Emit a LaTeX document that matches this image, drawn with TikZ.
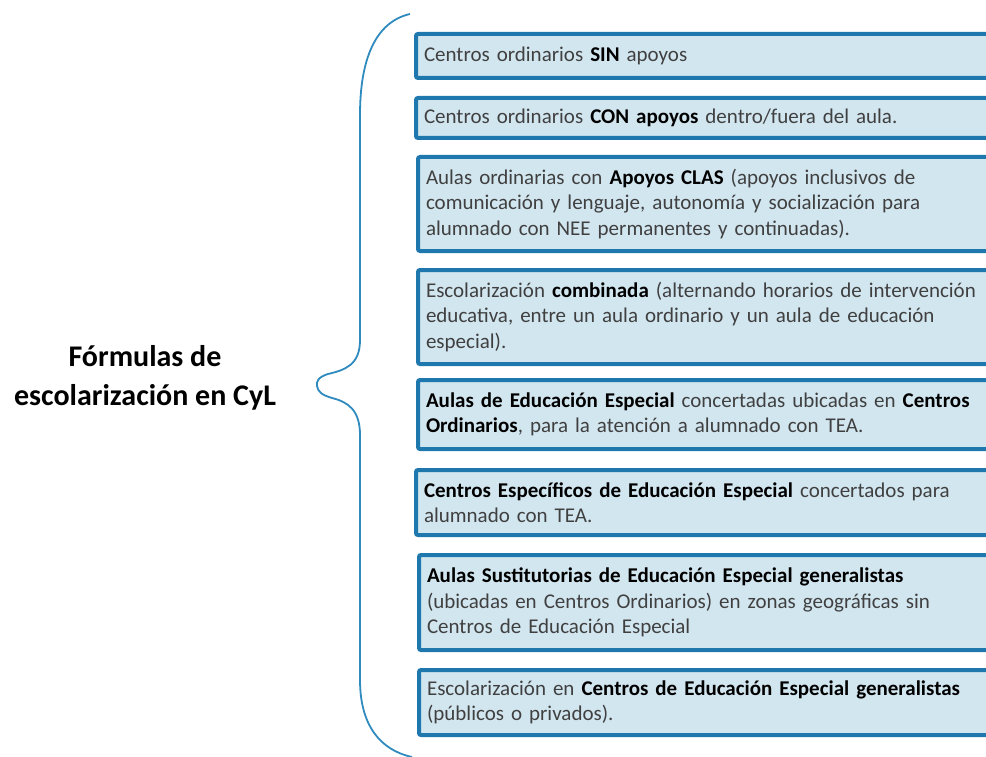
\documentclass[tikz,border=0pt]{standalone}
\usepackage{fontspec}
\setmainfont{Carlito}
\definecolor{boxfill}{HTML}{D2E6F0}
\definecolor{boxline}{HTML}{1F78AD}
\definecolor{bracecol}{HTML}{2F8BBE}
\definecolor{textgrey}{HTML}{404040}
\begin{document}
\begin{tikzpicture}[x=1pt,y=-1pt,
						formula/.style={rectangle,draw=boxline,fill=boxfill,line width=4pt,
							rounded corners=2pt,anchor=west,outer sep=0pt,
							minimum width=591pt,text width=575pt,align=left,inner xsep=8pt,
							text=textgrey,font=\fontsize{21}{25.5}\selectfont},
						hl/.style={}]
		\path[use as bounding box,clip] (0,0) rectangle (986,757);
		\node[font=\bfseries\fontsize{30}{38.5}\selectfont,align=center] (titulo) at (145,378)
			{Fórmulas de\\escolarización en CyL};
		\draw[bracecol,line width=1.8pt] (410,14)
			.. controls (375,22) and (360,60) .. (360,115) -- (360,340)
			.. controls (360,365) and (345,370) .. (328,374)
			.. controls (318,377) and (316,382) .. (317,386)
			.. controls (318,392) and (322,395) .. (332,398)
			.. controls (348,402) and (360,410) .. (360,435) -- (360,680)
			.. controls (360,725) and (380,750) .. (412,757);
		\node[formula,minimum height=44pt] (sin) at (416,56)
			{Centros ordinarios \textcolor{black}{\textbf{SIN}} apoyos};
		\node[formula,minimum height=40pt] (con) at (416,118)
			{Centros ordinarios \textcolor{black}{\textbf{CON apoyos}} dentro/fuera del aula.};
		\node[formula,minimum height=94pt] (clas) at (418,204)
			{Aulas ordinarias con \textcolor{black}{\textbf{Apoyos CLAS}} (apoyos inclusivos de\\
			comunicación y lenguaje, autonomía y socialización para\\
			alumnado con NEE permanentes y continuadas).};
		\node[formula,minimum height=94pt] (comb) at (418,317)
			{Escolarización \textcolor{black}{\textbf{combinada}} (alternando horarios de intervención\\
			educativa, entre un aula ordinario y un aula de educación\\
			especial).};
		\node[formula,minimum height=69pt] (aulaee) at (418,414.5)
			{\textcolor{black}{\textbf{Aulas de Educación Especial}} concertadas ubicadas en \textcolor{black}{\textbf{Centros}}\\
			\textcolor{black}{\textbf{Ordinarios}}, para la atención a alumnado con TEA.};
		\node[formula,minimum height=65pt] (ceee) at (416,502.5)
			{\textcolor{black}{\textbf{Centros Específicos de Educación Especial}} concertados para\\
			alumnado con TEA.};
		\node[formula,minimum height=95pt] (sust) at (419,602.5)
			{\textcolor{black}{\textbf{Aulas Sustitutorias de Educación Especial generalistas}}\\
			(ubicadas en Centros Ordinarios) en zonas geográficas sin\\
			Centros de Educación Especial};
		\node[formula,minimum height=65pt] (ceeg) at (419,702.5)
			{Escolarización en \textcolor{black}{\textbf{Centros de Educación Especial generalistas}}\\
			(públicos o privados).};
	\end{tikzpicture}
\end{document}
